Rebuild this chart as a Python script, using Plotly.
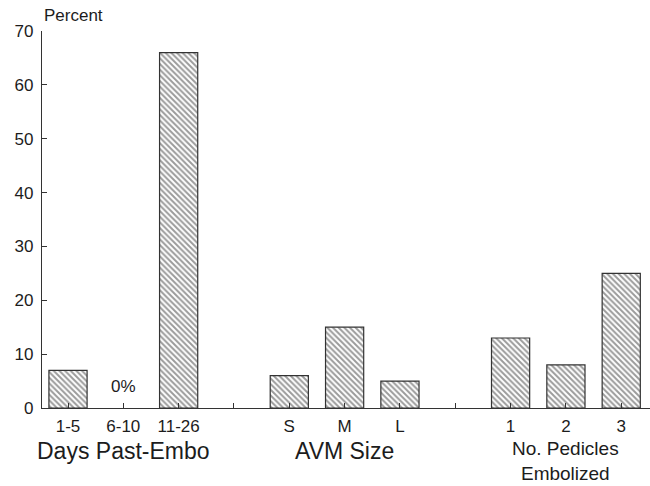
import plotly.graph_objects as go

# Percentages per subgroup
days_labels = ["1-5", "6-10", "11-26"]
days_pct = [7, 0, 66]

size_labels = ["S", "M", "L"]
size_pct = [6, 15, 5]

pedicle_labels = ["1", "2", "3"]
pedicle_pct = [13, 8, 25]

group_titles = ["Days Past-Embo", "AVM Size", "No. Pedicles<br>Embolized"]
y_ticks = [0, 10, 20, 30, 40, 50, 60, 70]

FONT = "Liberation Sans, Arial, Helvetica, sans-serif"
INK = "#1c1c1c"
LINE = "#333333"

# Lay the three groups out on a shared slot axis with one empty slot between groups
groups = [(days_labels, days_pct), (size_labels, size_pct), (pedicle_labels, pedicle_pct)]
xs, ys, tickvals, ticktext, centers = [], [], [], [], []
slot = 0
for gi, (labels, vals) in enumerate(groups):
    start = slot
    for lab, v in zip(labels, vals):
        xs.append(slot)
        ys.append(v)
        tickvals.append(slot)
        ticktext.append(lab)
        slot += 1
    centers.append((start + slot - 1) / 2)
    if gi < len(groups) - 1:
        tickvals.append(slot)
        ticktext.append("")
        slot += 1

# Empty (0%) bars get no outline so nothing sits on the baseline
outline_widths = [1.2 if v > 0 else 0 for v in ys]

fig = go.Figure()
fig.add_trace(go.Bar(
    x=xs, y=ys, width=0.69,
    marker=dict(
        color="white",
        line=dict(color=LINE, width=outline_widths),
        pattern=dict(shape="\\", size=4, solidity=0.5, fgcolor="#383838"),
    ),
    hoverinfo="x+y",
))

annotations = [
    dict(text="Percent", xref="paper", yref="paper", x=0, y=1.041,
         xanchor="left", yanchor="middle", showarrow=False,
         font=dict(family=FONT, size=17, color=INK)),
    dict(text="0%", xref="x", yref="y", x=xs[days_labels.index("6-10")], y=4,
         xanchor="center", yanchor="middle", showarrow=False,
         font=dict(family=FONT, size=17, color=INK)),
]
# Single-line group titles sit centred under their bars
for title, cx in zip(group_titles[:2], centers[:2]):
    annotations.append(dict(text=title, xref="x", yref="paper", x=cx, y=-0.1144,
                            xanchor="center", yanchor="middle", showarrow=False,
                            font=dict(family=FONT, size=23, color=INK)))
# Two-line title hangs down to the bottom edge
annotations.append(dict(text=group_titles[2], xref="x", yref="paper", x=centers[2], y=-0.2053,
                        xanchor="center", yanchor="bottom", showarrow=False, borderpad=0,
                        font=dict(family=FONT, size=19, color=INK)))

fig.update_layout(
    width=650, height=486,
    margin=dict(l=42, r=0, t=31, b=77.5),
    paper_bgcolor="white", plot_bgcolor="white",
    showlegend=False,
    annotations=annotations,
    xaxis=dict(
        range=[-0.47, 10.52],
        tickvals=tickvals, ticktext=ticktext,
        ticks="inside", ticklen=5, tickcolor=LINE, tickwidth=1,
        showline=True, linecolor=LINE, linewidth=1.2,
        showgrid=False, zeroline=False,
        tickfont=dict(family=FONT, size=17, color=INK),
        ticklabelstandoff=2,
    ),
    yaxis=dict(
        range=[0, 70],
        tickvals=y_ticks,
        ticks="inside", ticklen=5, tickcolor=LINE, tickwidth=1,
        showline=True, linecolor=LINE, linewidth=1.2,
        showgrid=False, zeroline=False,
        tickfont=dict(family=FONT, size=17, color=INK),
        ticklabelstandoff=4,
    ),
)

fig.write_html("out.html")
